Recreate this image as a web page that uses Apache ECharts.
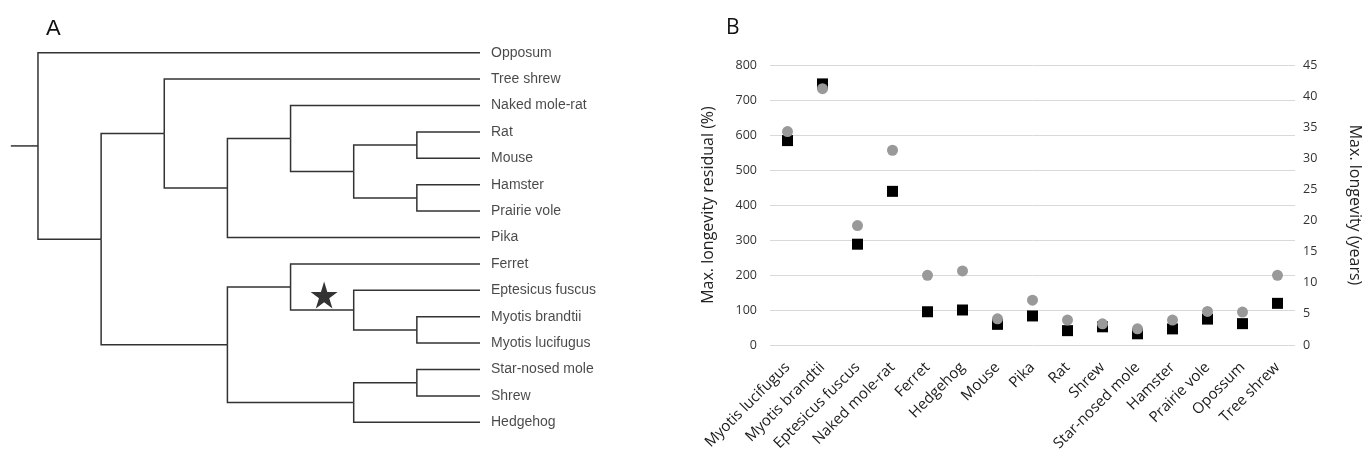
<!DOCTYPE html>
<html>
<head>
<meta charset="utf-8">
<script src="https://cdn.jsdelivr.net/npm/echarts@6/dist/echarts.min.js"></script>
<style>
  html, body { margin: 0; padding: 0; background: #fff; }
  #main { width: 1368px; height: 463px; }
</style>
</head>
<body>
<div id="main"></div>
<script>
// panel A: tree topology, leaves top to bottom
const leaves = ['Opposum', 'Tree shrew', 'Naked mole-rat', 'Rat', 'Mouse', 'Hamster', 'Prairie vole', 'Pika',
  'Ferret', 'Eptesicus fuscus', 'Myotis brandtii', 'Myotis lucifugus', 'Star-nosed mole', 'Shrew', 'Hedgehog'];
const leafDepth = 7;
// [clade, depth, children]
const clades = [
  ['root', 0, ['Opposum', 'n1']],
  ['n1', 1, ['n2', 'laur']],
  ['n2', 2, ['Tree shrew', 'n3']],
  ['n3', 3, ['n4', 'Pika']],
  ['n4', 4, ['Naked mole-rat', 'n5']],
  ['n5', 5, ['murid', 'cricetid']],
  ['murid', 6, ['Rat', 'Mouse']],
  ['cricetid', 6, ['Hamster', 'Prairie vole']],
  ['laur', 3, ['n8', 'n9']],
  ['n8', 4, ['Ferret', 'bats']],
  ['bats', 5, ['Eptesicus fuscus', 'myotis']],
  ['myotis', 6, ['Myotis brandtii', 'Myotis lucifugus']],
  ['n9', 5, ['n10', 'Hedgehog']],
  ['n10', 6, ['Star-nosed mole', 'Shrew']]
];
const rootStub = 0.43;
const starredClade = 'bats';

// panel B
const species = ['Myotis lucifugus', 'Myotis brandtii', 'Eptesicus fuscus', 'Naked mole-rat', 'Ferret', 'Hedgehog',
  'Mouse', 'Pika', 'Rat', 'Shrew', 'Star-nosed mole', 'Hamster', 'Prairie vole', 'Opossum', 'Tree shrew'];
const residual = [584, 746, 288, 439, 95, 100, 59, 83, 41, 52, 32, 46, 74, 61, 119];
const longevity = [34.3, 41.2, 19.2, 31.3, 11.2, 11.9, 4.2, 7.2, 4.0, 3.4, 2.6, 4.0, 5.4, 5.3, 11.2];

// --- tree layout
var node = {};
leaves.forEach(function (name, i) {
  node[name] = { depth: leafDepth, y: i };
});
clades.forEach(function (c) {
  node[c[0]] = { depth: c[1], kids: c[2] };
});
function placeY(name) {
  var n = node[name];
  if (n.y === undefined) {
    var ys = n.kids.map(placeY);
    n.y = (Math.min.apply(null, ys) + Math.max.apply(null, ys)) / 2;
  }
  return n.y;
}
placeY('root');

var edges = [];
var starPoint = null;
clades.forEach(function (c) {
  var p = node[c[0]];
  c[2].forEach(function (k) {
    var ch = node[k];
    edges.push({ coords: [[p.depth, p.y], [p.depth, ch.y], [ch.depth, ch.y]] });
    if (k === starredClade) {
      starPoint = [(p.depth + ch.depth) / 2, ch.y];
    }
  });
});
edges.push({ coords: [[-rootStub, node.root.y], [0, node.root.y]] });

var leafPoints = leaves.map(function (name) {
  return { name: name, value: [leafDepth, node[name].y] };
});

var starPath = 'path://M50,0 L61.8,36.2 L100,36.2 L69.1,58.6 L80.9,95.1 L50,72.7 L19.1,95.1 L30.9,58.6 L0,36.2 L38.2,36.2 Z';

var chart = echarts.init(document.getElementById('main'));
chart.setOption({
  animation: false,
  title: [
    { text: 'A', left: 41, top: 13, textStyle: { fontFamily: 'Liberation Sans', fontSize: 22, fontWeight: 'normal', color: '#111' } },
    { text: 'B', left: 721, top: 13, textStyle: { fontFamily: 'Open Sans', fontSize: 21, fontWeight: 'normal', color: '#111' } }
  ],
  grid: [
    { left: 6.4, width: 473.6, top: 52.7, height: 369.6 },
    { left: 770, right: 73, top: 65, bottom: 118 }
  ],
  xAxis: [
    { gridIndex: 0, type: 'value', min: -0.5, max: leafDepth, show: false },
    {
      gridIndex: 1, type: 'category', data: species,
      axisLine: { show: false }, axisTick: { show: false },
      axisLabel: { interval: 0, rotate: 45, margin: 20, fontFamily: 'Open Sans', fontSize: 15, color: '#1a1a1a' }
    }
  ],
  yAxis: [
    { gridIndex: 0, type: 'value', min: 0, max: leaves.length - 1, inverse: true, show: false },
    {
      gridIndex: 1, type: 'value', min: 0, max: 800, interval: 100, position: 'left',
      name: 'Max. longevity residual (%)', nameLocation: 'middle', nameRotate: 90, nameGap: 54,
      nameTextStyle: { fontFamily: 'Open Sans', fontSize: 16, color: '#222' },
      axisLine: { show: false }, axisTick: { show: false },
      axisLabel: { margin: 13, fontFamily: 'Open Sans', fontSize: 12.5, color: '#333' },
      splitLine: { lineStyle: { color: '#d9d9d9', width: 1 } }
    },
    {
      gridIndex: 1, type: 'value', min: 0, max: 45, interval: 5, position: 'right',
      name: 'Max. longevity (years)', nameLocation: 'middle', nameRotate: -90, nameGap: 52,
      nameTextStyle: { fontFamily: 'Open Sans', fontSize: 16, color: '#222' },
      axisLine: { show: false }, axisTick: { show: false },
      axisLabel: { margin: 8, fontFamily: 'Open Sans', fontSize: 12.5, color: '#333' },
      splitLine: { show: false }
    }
  ],
  series: [
    {
      type: 'lines', coordinateSystem: 'cartesian2d', xAxisIndex: 0, yAxisIndex: 0,
      polyline: true, silent: true,
      lineStyle: { color: '#333', width: 1.5, opacity: 1 },
      data: edges
    },
    {
      type: 'scatter', xAxisIndex: 0, yAxisIndex: 0, symbolSize: 0, silent: true,
      label: { show: true, position: 'right', distance: 11, formatter: '{b}',
        fontFamily: 'Liberation Sans', fontSize: 14, color: '#1a1a1a' },
      data: leafPoints
    },
    {
      type: 'scatter', xAxisIndex: 0, yAxisIndex: 0, symbol: starPath, symbolSize: 27,
      symbolOffset: [2, -15], silent: true,
      itemStyle: { color: '#000' },
      data: [starPoint]
    },
    {
      name: 'Residual', type: 'scatter', xAxisIndex: 1, yAxisIndex: 1,
      symbol: 'rect', symbolSize: 11, itemStyle: { color: '#000', opacity: 1 },
      data: residual
    },
    {
      name: 'Longevity', type: 'scatter', xAxisIndex: 1, yAxisIndex: 2,
      symbol: 'circle', symbolSize: 11, itemStyle: { color: '#999', opacity: 1 },
      data: longevity
    }
  ]
});
</script>
</body>
</html>
